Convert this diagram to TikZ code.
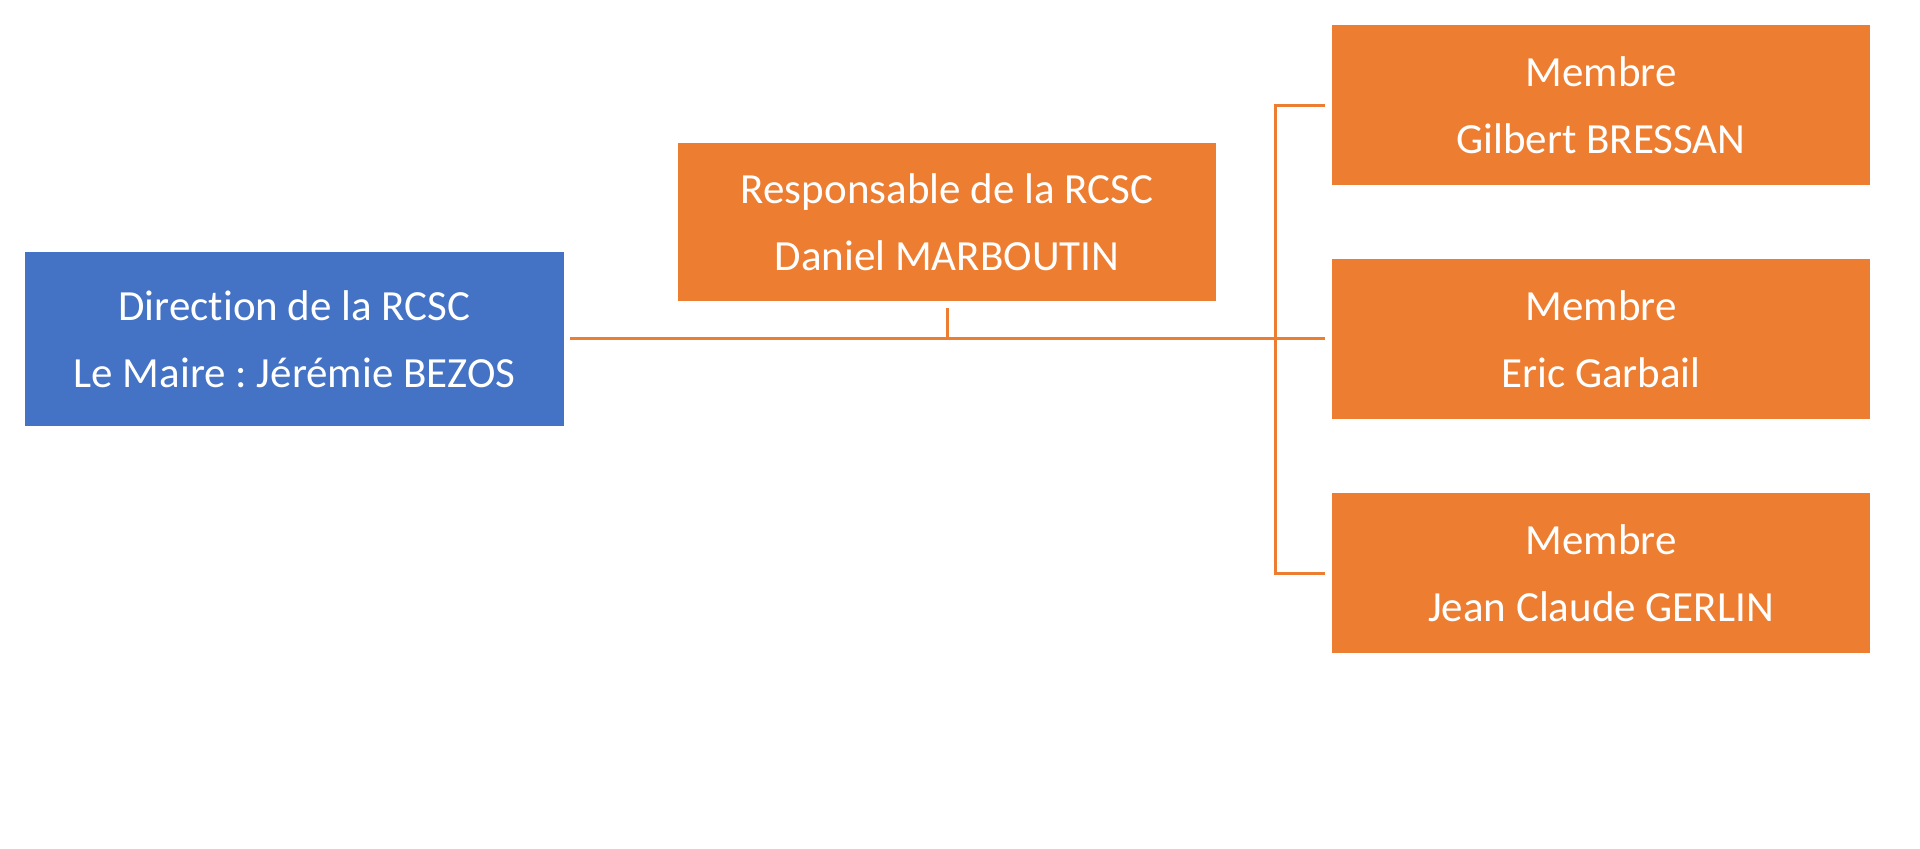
\documentclass[tikz,border=0pt]{standalone}
\usepackage{fontspec}
\setmainfont{Carlito}[Ligatures=NoCommon]
\definecolor{boxorange}{HTML}{ED7D31}
\definecolor{boxblue}{HTML}{4472C4}
\begin{document}
\frenchspacing
\begin{tikzpicture}[x=0.5pt,y=-0.5pt,
  box/.style={rectangle, draw=white, line width=0.6pt, text=white, inner sep=0pt,
    minimum width=270pt, align=center, font=\fontsize{21.5}{33.5}\selectfont},
  conn/.style={draw=boxorange, line width=1.5pt}]
\useasboundingbox (0,0) rectangle (1920,849);
\node[box, fill=boxblue, minimum height=88pt] (dir) at (294.5,339) {Direction de la RCSC\\Le Maire : Jérémie BEZOS};
\node[box, fill=boxorange, minimum height=80pt] (resp) at (947,222) {Responsable de la RCSC\\Daniel MARBOUTIN};
\node[box, fill=boxorange, minimum height=80.75pt] (m1) at (1601,105.25) {Membre\\Gilbert BRESSAN};
\node[box, fill=boxorange, minimum height=81pt] (m2) at (1601,339) {Membre\\Eric Garbail};
\node[box, fill=boxorange, minimum height=81pt] (m3) at (1601,573) {Membre\\Jean Claude GERLIN};
\coordinate (bx) at (1275,0);
\draw[conn] ([xshift=2.5pt]dir.east) -- ([xshift=-2.5pt]m2.west);
\draw[conn] ([yshift=-2.5pt]resp.south) -- (resp.south |- m2.west);
\draw[conn] ([xshift=-2.5pt]m1.west) -- (m1.west -| bx) -- (m3.west -| bx) -- ([xshift=-2.5pt]m3.west);
\end{tikzpicture}
\end{document}
